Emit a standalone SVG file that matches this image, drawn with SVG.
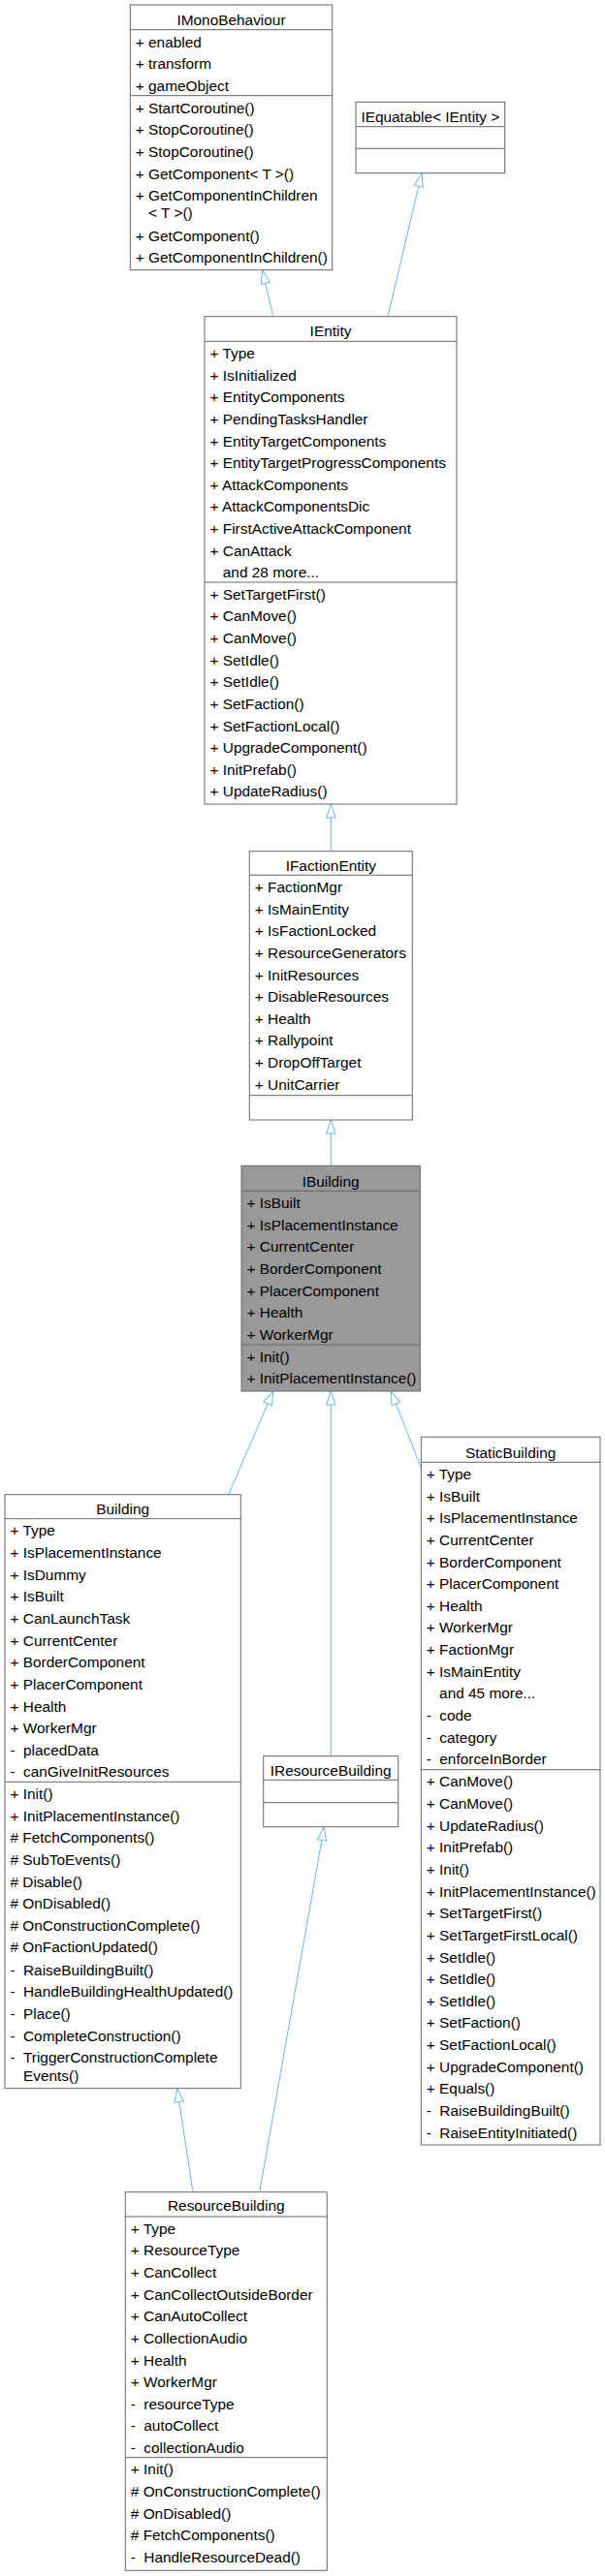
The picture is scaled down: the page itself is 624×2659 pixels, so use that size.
<svg xmlns="http://www.w3.org/2000/svg" width="624" height="2659" viewBox="0 0 624 2659">
<style>
text{font-family:"Liberation Sans",Arial,Helvetica,sans-serif;font-size:15.4px;fill:#000}
.c{text-anchor:middle}
.box{fill:#fff;stroke:#666;stroke-width:1}
.cur{fill:#999;stroke:#666;stroke-width:1}
.sep{stroke:#666;stroke-width:1}
.edge{stroke:#63B8FF;stroke-width:1;fill:none}
</style>
<defs>
<marker id="inh" markerUnits="userSpaceOnUse" markerWidth="16" markerHeight="12" refX="14" refY="4.7" orient="auto" overflow="visible">
<path d="M0,0 L14,4.7 L0,9.4 Z" fill="#fff" stroke="#63B8FF" stroke-width="1"/>
</marker>
</defs>

<g id="connectors">
<line class="edge" x1="281.7" y1="326.7" x2="270.7" y2="278.7" marker-end="url(#inh)"/>
<line class="edge" x1="400" y1="326.7" x2="435" y2="178.7" marker-end="url(#inh)"/>
<line class="edge" x1="341.3" y1="878.7" x2="341.3" y2="830" marker-end="url(#inh)"/>
<line class="edge" x1="341.3" y1="1203.3" x2="341.3" y2="1156" marker-end="url(#inh)"/>
<line class="edge" x1="235.7" y1="1542.7" x2="281.7" y2="1436" marker-end="url(#inh)"/>
<line class="edge" x1="341.3" y1="1812.7" x2="341.3" y2="1436" marker-end="url(#inh)"/>
<line class="edge" x1="434.3" y1="1515" x2="403.3" y2="1436" marker-end="url(#inh)"/>
<line class="edge" x1="199" y1="2262.7" x2="182.7" y2="2155.7" marker-end="url(#inh)"/>
<line class="edge" x1="267.7" y1="2262.7" x2="334.3" y2="1885.7" marker-end="url(#inh)"/>
</g>

<g id="IMonoBehaviour">
<rect class="box" x="134.3" y="5" width="208.4" height="273.7"/>
<line class="sep" x1="134.3" y1="30.7" x2="342.7" y2="30.7"/>
<line class="sep" x1="134.3" y1="98.7" x2="342.7" y2="98.7"/>
<text class="c" x="238.5" y="26">IMonoBehaviour</text>
<text x="139.8" y="48.6">+ enabled</text>
<text x="139.8" y="71">+ transform</text>
<text x="139.8" y="93.6">+ gameObject</text>
<text x="139.8" y="116.8">+ StartCoroutine()</text>
<text x="139.8" y="139.4">+ StopCoroutine()</text>
<text x="139.8" y="162.1">+ StopCoroutine()</text>
<text x="139.8" y="184.7">+ GetComponent&lt; T &gt;()</text>
<text x="139.8" y="207.2">+ GetComponentInChildren</text>
<text x="153.1" y="225.4">&lt; T &gt;()</text>
<text x="139.8" y="248.6">+ GetComponent()</text>
<text x="139.8" y="271">+ GetComponentInChildren()</text>
</g>

<g id="IEquatable">
<rect class="box" x="367" y="105.3" width="153.7" height="73.4"/>
<line class="sep" x1="367" y1="130.7" x2="520.7" y2="130.7"/>
<line class="sep" x1="367" y1="153.3" x2="520.7" y2="153.3"/>
<text class="c" x="443.85" y="126">IEquatable&lt; IEntity &gt;</text>
</g>

<g id="IEntity">
<rect class="box" x="211" y="326.7" width="260" height="503.3"/>
<line class="sep" x1="211" y1="352.3" x2="471" y2="352.3"/>
<line class="sep" x1="211" y1="601" x2="471" y2="601"/>
<text class="c" x="341" y="347">IEntity</text>
<text x="216.5" y="369.9">+ Type</text>
<text x="216.5" y="392.55">+ IsInitialized</text>
<text x="216.5" y="415.2">+ EntityComponents</text>
<text x="216.5" y="437.85">+ PendingTasksHandler</text>
<text x="216.5" y="460.5">+ EntityTargetComponents</text>
<text x="216.5" y="483.15">+ EntityTargetProgressComponents</text>
<text x="216.5" y="505.8">+ AttackComponents</text>
<text x="216.5" y="528.45">+ AttackComponentsDic</text>
<text x="216.5" y="551.1">+ FirstActiveAttackComponent</text>
<text x="216.5" y="573.75">+ CanAttack</text>
<text x="229.8" y="596.4">and 28 more...</text>
<text x="216.5" y="618.6">+ SetTargetFirst()</text>
<text x="216.5" y="641.25">+ CanMove()</text>
<text x="216.5" y="663.9">+ CanMove()</text>
<text x="216.5" y="686.55">+ SetIdle()</text>
<text x="216.5" y="709.2">+ SetIdle()</text>
<text x="216.5" y="731.85">+ SetFaction()</text>
<text x="216.5" y="754.5">+ SetFactionLocal()</text>
<text x="216.5" y="777.15">+ UpgradeComponent()</text>
<text x="216.5" y="799.8">+ InitPrefab()</text>
<text x="216.5" y="822.45">+ UpdateRadius()</text>
</g>

<g id="IFactionEntity">
<rect class="box" x="257.3" y="878.7" width="168" height="277.3"/>
<line class="sep" x1="257.3" y1="903.3" x2="425.3" y2="903.3"/>
<line class="sep" x1="257.3" y1="1130.7" x2="425.3" y2="1130.7"/>
<text class="c" x="341.3" y="898.6">IFactionEntity</text>
<text x="262.8" y="920.9">+ FactionMgr</text>
<text x="262.8" y="943.55">+ IsMainEntity</text>
<text x="262.8" y="966.2">+ IsFactionLocked</text>
<text x="262.8" y="988.85">+ ResourceGenerators</text>
<text x="262.8" y="1011.5">+ InitResources</text>
<text x="262.8" y="1034.15">+ DisableResources</text>
<text x="262.8" y="1056.8">+ Health</text>
<text x="262.8" y="1079.45">+ Rallypoint</text>
<text x="262.8" y="1102.1">+ DropOffTarget</text>
<text x="262.8" y="1124.75">+ UnitCarrier</text>
</g>

<g id="IBuilding">
<rect class="cur" x="249" y="1203.3" width="184.3" height="232.7"/>
<line class="sep" x1="249" y1="1229.3" x2="433.3" y2="1229.3"/>
<line class="sep" x1="249" y1="1388" x2="433.3" y2="1388"/>
<text class="c" x="341.15" y="1224.6">IBuilding</text>
<text x="254.5" y="1246.9">+ IsBuilt</text>
<text x="254.5" y="1269.55">+ IsPlacementInstance</text>
<text x="254.5" y="1292.2">+ CurrentCenter</text>
<text x="254.5" y="1314.85">+ BorderComponent</text>
<text x="254.5" y="1337.5">+ PlacerComponent</text>
<text x="254.5" y="1360.15">+ Health</text>
<text x="254.5" y="1382.8">+ WorkerMgr</text>
<text x="254.5" y="1405.6">+ Init()</text>
<text x="254.5" y="1428.25">+ InitPlacementInstance()</text>
</g>

<g id="Building">
<rect class="box" x="5" y="1542.7" width="243.3" height="613"/>
<line class="sep" x1="5" y1="1567.7" x2="248.3" y2="1567.7"/>
<line class="sep" x1="5" y1="1839.3" x2="248.3" y2="1839.3"/>
<text class="c" x="126.65" y="1562.6">Building</text>
<text x="10.5" y="1585.3">+ Type</text>
<text x="10.5" y="1607.95">+ IsPlacementInstance</text>
<text x="10.5" y="1630.6">+ IsDummy</text>
<text x="10.5" y="1653.25">+ IsBuilt</text>
<text x="10.5" y="1675.9">+ CanLaunchTask</text>
<text x="10.5" y="1698.55">+ CurrentCenter</text>
<text x="10.5" y="1721.2">+ BorderComponent</text>
<text x="10.5" y="1743.85">+ PlacerComponent</text>
<text x="10.5" y="1766.5">+ Health</text>
<text x="10.5" y="1789.15">+ WorkerMgr</text>
<text x="10.5" y="1811.8"><tspan>- </tspan><tspan x="24">placedData</tspan></text>
<text x="10.5" y="1834.45"><tspan>- </tspan><tspan x="24">canGiveInitResources</tspan></text>
<text x="10.5" y="1856.9">+ Init()</text>
<text x="10.5" y="1879.55">+ InitPlacementInstance()</text>
<text x="10.5" y="1902.2"># FetchComponents()</text>
<text x="10.5" y="1924.85"># SubToEvents()</text>
<text x="10.5" y="1947.5"># Disable()</text>
<text x="10.5" y="1970.15"># OnDisabled()</text>
<text x="10.5" y="1992.8"># OnConstructionComplete()</text>
<text x="10.5" y="2015.45"># OnFactionUpdated()</text>
<text x="10.5" y="2038.6"><tspan>- </tspan><tspan x="24">RaiseBuildingBuilt()</tspan></text>
<text x="10.5" y="2061.3"><tspan>- </tspan><tspan x="24">HandleBuildingHealthUpdated()</tspan></text>
<text x="10.5" y="2084"><tspan>- </tspan><tspan x="24">Place()</tspan></text>
<text x="10.5" y="2106.6"><tspan>- </tspan><tspan x="24">CompleteConstruction()</tspan></text>
<text x="10.5" y="2129.3"><tspan>- </tspan><tspan x="24">TriggerConstructionComplete</tspan></text>
<text x="24" y="2147.7">Events()</text>
</g>

<g id="IResourceBuilding">
<rect class="box" x="271.7" y="1812.7" width="139" height="73"/>
<line class="sep" x1="271.7" y1="1837.3" x2="410.7" y2="1837.3"/>
<line class="sep" x1="271.7" y1="1860.7" x2="410.7" y2="1860.7"/>
<text class="c" x="341.2" y="1832.6">IResourceBuilding</text>
</g>

<g id="StaticBuilding">
<rect class="box" x="434.3" y="1483.3" width="184.7" height="730.7"/>
<line class="sep" x1="434.3" y1="1509.3" x2="619" y2="1509.3"/>
<line class="sep" x1="434.3" y1="1826.7" x2="619" y2="1826.7"/>
<text class="c" x="526.65" y="1504.6">StaticBuilding</text>
<text x="439.8" y="1526.9">+ Type</text>
<text x="439.8" y="1549.55">+ IsBuilt</text>
<text x="439.8" y="1572.2">+ IsPlacementInstance</text>
<text x="439.8" y="1594.85">+ CurrentCenter</text>
<text x="439.8" y="1617.5">+ BorderComponent</text>
<text x="439.8" y="1640.15">+ PlacerComponent</text>
<text x="439.8" y="1662.8">+ Health</text>
<text x="439.8" y="1685.45">+ WorkerMgr</text>
<text x="439.8" y="1708.1">+ FactionMgr</text>
<text x="439.8" y="1730.75">+ IsMainEntity</text>
<text x="453.1" y="1753.4">and 45 more...</text>
<text x="439.8" y="1776.05"><tspan>- </tspan><tspan x="453.3">code</tspan></text>
<text x="439.8" y="1798.7"><tspan>- </tspan><tspan x="453.3">category</tspan></text>
<text x="439.8" y="1821.35"><tspan>- </tspan><tspan x="453.3">enforceInBorder</tspan></text>
<text x="439.8" y="1844.3">+ CanMove()</text>
<text x="439.8" y="1866.95">+ CanMove()</text>
<text x="439.8" y="1889.6">+ UpdateRadius()</text>
<text x="439.8" y="1912.25">+ InitPrefab()</text>
<text x="439.8" y="1934.9">+ Init()</text>
<text x="439.8" y="1957.55">+ InitPlacementInstance()</text>
<text x="439.8" y="1980.2">+ SetTargetFirst()</text>
<text x="439.8" y="2002.85">+ SetTargetFirstLocal()</text>
<text x="439.8" y="2025.5">+ SetIdle()</text>
<text x="439.8" y="2048.15">+ SetIdle()</text>
<text x="439.8" y="2070.8">+ SetIdle()</text>
<text x="439.8" y="2093.45">+ SetFaction()</text>
<text x="439.8" y="2116.1">+ SetFactionLocal()</text>
<text x="439.8" y="2138.75">+ UpgradeComponent()</text>
<text x="439.8" y="2161.4">+ Equals()</text>
<text x="439.8" y="2184.05"><tspan>- </tspan><tspan x="453.3">RaiseBuildingBuilt()</tspan></text>
<text x="439.8" y="2206.7"><tspan>- </tspan><tspan x="453.3">RaiseEntityInitiated()</tspan></text>
</g>

<g id="ResourceBuilding">
<rect class="box" x="129.3" y="2262.7" width="208" height="390.6"/>
<line class="sep" x1="129.3" y1="2288" x2="337.3" y2="2288"/>
<line class="sep" x1="129.3" y1="2536.7" x2="337.3" y2="2536.7"/>
<text class="c" x="233.3" y="2282">ResourceBuilding</text>
<text x="134.8" y="2305.6">+ Type</text>
<text x="134.8" y="2328.25">+ ResourceType</text>
<text x="134.8" y="2350.9">+ CanCollect</text>
<text x="134.8" y="2373.55">+ CanCollectOutsideBorder</text>
<text x="134.8" y="2396.2">+ CanAutoCollect</text>
<text x="134.8" y="2418.85">+ CollectionAudio</text>
<text x="134.8" y="2441.5">+ Health</text>
<text x="134.8" y="2464.15">+ WorkerMgr</text>
<text x="134.8" y="2486.8"><tspan>- </tspan><tspan x="148.3">resourceType</tspan></text>
<text x="134.8" y="2509.45"><tspan>- </tspan><tspan x="148.3">autoCollect</tspan></text>
<text x="134.8" y="2532.1"><tspan>- </tspan><tspan x="148.3">collectionAudio</tspan></text>
<text x="134.8" y="2554.3">+ Init()</text>
<text x="134.8" y="2576.95"># OnConstructionComplete()</text>
<text x="134.8" y="2599.6"># OnDisabled()</text>
<text x="134.8" y="2622.25"># FetchComponents()</text>
<text x="134.8" y="2644.9"><tspan>- </tspan><tspan x="148.3">HandleResourceDead()</tspan></text>
</g>
</svg>
